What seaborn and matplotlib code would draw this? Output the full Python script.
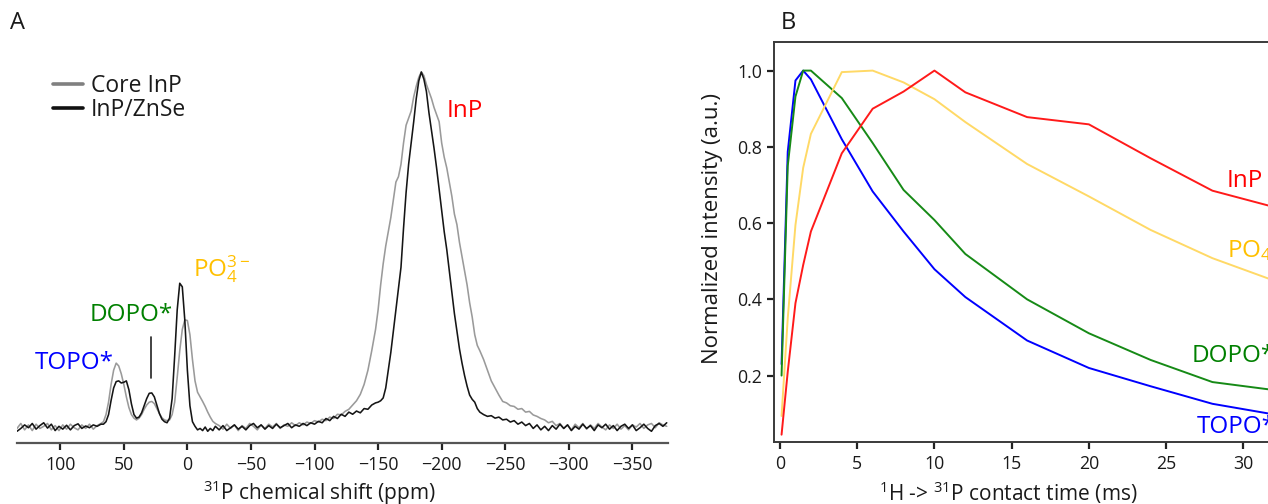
import numpy as np
import pandas as pd
import matplotlib
matplotlib.use("Agg")
import matplotlib.pyplot as plt
import seaborn as sns
from matplotlib.lines import Line2D

# ---------------- Panel A data: 31P spectra ----------------
ppm = [134, 131, 128, 125, 122, 119, 116, 113, 110, 107, 104, 101, 98, 95, 92, 89, 86, 83, 80, 77, 74, 71, 68,
       66, 64, 62, 60, 58, 56, 54, 52, 50, 48, 46, 44, 42, 40, 38, 36, 34, 32, 30, 28, 26, 24, 22, 20, 18, 16, 14,
       12, 10, 8, 6, 4, 2, 0, -2, -4, -6, -8, -10, -12, -14, -16, -18, -20, -22,
       -25, -28, -31, -34, -37, -40, -43, -46, -49, -52, -55, -58, -61, -64, -67, -70, -73, -76, -79, -82, -85,
       -88, -91, -94, -97, -100, -103, -106, -109, -112, -115, -118, -121, -124, -127, -130, -133, -136, -139,
       -142, -145, -148,
       -150, -152, -154, -156, -158, -160, -162, -164, -166, -168, -170, -172, -174, -176, -178, -180, -182, -184,
       -186, -188, -190, -192, -194, -196, -198, -200, -202, -204, -206, -208, -210, -212, -214, -216, -218, -220,
       -222, -224, -226, -228, -230,
       -233, -236, -239, -242, -245, -248, -251, -254, -257, -260, -263, -266, -269, -272, -275, -278, -281, -284,
       -287, -290, -293, -296, -299, -302, -305, -308, -311, -314, -317, -320, -323, -326, -329, -332, -335, -338,
       -341, -344, -347, -350, -353, -356, -359, -362, -365, -368, -371, -374, -377]

inp_znse = [-0.012, -0.004, 0.006, -0.002, 0.010, -0.006, 0.004, 0.012, -0.003, 0.008, -0.010, 0.002, -0.006,
            0.005, -0.008, 0.004, 0.009, -0.004, 0.003, -0.002, 0.006, 0.002, 0.008,
            0.008, 0.015, 0.035, 0.075, 0.110, 0.128, 0.130, 0.124, 0.126, 0.130, 0.105, 0.065, 0.035, 0.025, 0.028,
            0.040, 0.060, 0.080, 0.095, 0.096, 0.085, 0.062, 0.038, 0.022, 0.015, 0.012, 0.025, 0.080, 0.200, 0.330,
            0.405, 0.395, 0.300, 0.160, 0.060, 0.015, 0.002, -0.008, -0.004, -0.010, 0.000, -0.012, -0.004, -0.010,
            0.002,
            -0.008, 0.004, -0.010, -0.002, 0.006, -0.006, 0.002, -0.008, 0.004, 0.010, -0.002, 0.006, -0.006, 0.004,
            -0.004, 0.008, -0.002, 0.004, 0.010, -0.002, 0.006, 0.002, 0.010, 0.004, 0.012, 0.008, 0.016, 0.012,
            0.024, 0.018, 0.030, 0.024, 0.036, 0.030, 0.042, 0.036, 0.045, 0.040, 0.052, 0.050, 0.062, 0.068,
            0.070, 0.074, 0.082, 0.110, 0.160, 0.210, 0.270, 0.330, 0.390, 0.450, 0.560, 0.660, 0.740, 0.800, 0.860,
            0.925, 0.975, 1.000, 0.980, 0.945, 0.885, 0.835, 0.785, 0.730, 0.670, 0.610, 0.550, 0.500, 0.440, 0.380,
            0.320, 0.270, 0.220, 0.180, 0.145, 0.115, 0.090, 0.078, 0.070, 0.052, 0.042,
            0.035, 0.030, 0.032, 0.025, 0.028, 0.020, 0.022, 0.014, 0.018, 0.008, 0.014, 0.004, 0.010, -0.004, 0.006,
            -0.008, 0.002, -0.010, 0.004, -0.006, 0.008, -0.004, 0.006, -0.010, 0.002, -0.006, 0.008, -0.004, 0.004,
            -0.010, 0.006, -0.002, 0.008, -0.006, 0.004, -0.010, 0.002, 0.008, -0.004, 0.006, -0.010, -0.002, 0.008,
            -0.004, -0.012, 0.004, 0.010, 0.002, 0.012]

core_inp = [-0.004, 0.010, -0.008, 0.006, -0.010, 0.008, -0.004, 0.002, 0.010, -0.008, 0.004, -0.010, 0.006,
            -0.006, 0.008, -0.002, -0.008, 0.006, -0.004, 0.008, -0.006, 0.004, 0.010,
            0.015, 0.035, 0.070, 0.120, 0.160, 0.180, 0.172, 0.150, 0.120, 0.085, 0.055, 0.035, 0.025, 0.020, 0.025,
            0.035, 0.050, 0.062, 0.070, 0.072, 0.066, 0.052, 0.038, 0.026, 0.020, 0.018, 0.020, 0.035, 0.070, 0.140,
            0.215, 0.275, 0.302, 0.300, 0.260, 0.190, 0.130, 0.098, 0.085, 0.072, 0.058, 0.042, 0.028, 0.016, 0.010,
            0.004, -0.006, 0.008, -0.004, 0.006, -0.010, 0.004, -0.004, 0.010, 0.002, -0.008, 0.006, -0.004, 0.008,
            0.000, 0.010, -0.004, 0.006, 0.002, 0.012, 0.004, 0.012, 0.006, 0.014, 0.010, 0.018, 0.014, 0.022, 0.018,
            0.028, 0.024, 0.036, 0.034, 0.044, 0.050, 0.062, 0.074, 0.092, 0.120, 0.160, 0.215, 0.275,
            0.330, 0.400, 0.460, 0.510, 0.550, 0.590, 0.640, 0.690, 0.705, 0.740, 0.800, 0.850, 0.870, 0.890, 0.930,
            0.960, 0.985, 1.000, 0.990, 0.965, 0.945, 0.925, 0.900, 0.880, 0.860, 0.800, 0.760, 0.730, 0.690, 0.650,
            0.600, 0.570, 0.520, 0.480, 0.440, 0.400, 0.350, 0.310, 0.260, 0.230, 0.215,
            0.190, 0.160, 0.130, 0.110, 0.090, 0.072, 0.068, 0.060, 0.058, 0.050, 0.052, 0.042, 0.044, 0.034, 0.030,
            0.024, 0.020, 0.012, 0.016, 0.004, 0.010, -0.004, 0.006, -0.008, 0.008, -0.002, 0.010, -0.006, 0.006,
            -0.004, 0.010, 0.000, -0.008, 0.006, -0.004, 0.008, -0.006, 0.004, -0.008, 0.006, 0.000, 0.010, -0.004,
            0.006, 0.010, -0.002, 0.012, 0.006, 0.002]

samples = ["Core InP", "InP/ZnSe"]
ppm_ticks = [100, 50, 0, -50, -100, -150, -200, -250, -300, -350]

# ---------------- Panel B data: CP build-up ----------------
contact_time = [0.1, 0.5, 1, 1.5, 2, 4, 6, 8, 10, 12, 16, 20, 24, 28, 32]
cp_inp = [0.045, 0.21, 0.39, 0.49, 0.578, 0.783, 0.900, 0.945, 1.000, 0.943, 0.878, 0.859, 0.770, 0.685, 0.642]
cp_po4 = [0.094, 0.35, 0.595, 0.745, 0.834, 0.996, 1.000, 0.969, 0.925, 0.865, 0.755, 0.670, 0.582, 0.508, 0.449]
cp_dopo = [0.200, 0.75, 0.932, 1.000, 1.000, 0.928, 0.810, 0.687, 0.608, 0.519, 0.400, 0.311, 0.241, 0.183, 0.162]
cp_topo = [0.230, 0.787, 0.974, 1.000, 0.977, 0.820, 0.683, 0.578, 0.479, 0.406, 0.292, 0.220, 0.172, 0.126, 0.098]
species = ["TOPO*", "DOPO*", "PO4", "InP"]
time_ticks = [0, 5, 10, 15, 20, 25, 30]
int_ticks = [0.2, 0.4, 0.6, 0.8, 1.0]

assert len(ppm) == len(inp_znse) == len(core_inp), (len(ppm), len(inp_znse), len(core_inp))

# ---------------- style ----------------
sns.set_style("ticks")
plt.rcParams["font.family"] = ["Open Sans", "DejaVu Sans"]
plt.rcParams["mathtext.fontset"] = "custom"
plt.rcParams["mathtext.rm"] = "Open Sans"
plt.rcParams["mathtext.it"] = "Open Sans:italic"
plt.rcParams["mathtext.bf"] = "Open Sans:bold"

W, H = 1268, 504
fig = plt.figure(figsize=(W / 100, H / 100), dpi=100)


def rect(l, t, r, b):
    return [l / W, 1 - b / H, (r - l) / W, (b - t) / H]


def ftext(x, y, s, **kw):
    return fig.text(x / W, 1 - y / H, s, **kw)


axA = fig.add_axes(rect(17, 50, 668, 443))
axB = fig.add_axes(rect(774.3, 42, 1268, 442.3))

TXT = "#1a1a1a"
SPINE = "#3a3a3a"

# ---------------- Panel A ----------------
dfA = pd.DataFrame({
    "ppm": ppm * 2,
    "intensity": core_inp + inp_znse,
    "sample": [samples[0]] * len(ppm) + [samples[1]] * len(ppm),
})
palA = {"Core InP": "#9a9a9a", "InP/ZnSe": "#151515"}
sns.lineplot(data=dfA, x="ppm", y="intensity", hue="sample", hue_order=samples,
             palette=palA, estimator=None, sort=False, lw=1.15, legend=False, ax=axA)
axA.set_xlim(134, -378)
axA.set_ylim(-0.045, 1.062)
for s in ["left", "top", "right"]:
    axA.spines[s].set_visible(False)
axA.spines["bottom"].set_color("#555555")
axA.spines["bottom"].set_linewidth(1.6)
axA.set_yticks([])
axA.set_xticks(ppm_ticks)
axA.tick_params(axis="x", length=5, width=1.6, color="#222222", labelsize=12.8, pad=4, labelcolor=TXT)
axA.set_ylabel("")
axA.set_xlabel(r"$^{\mathrm{31}}$P chemical shift (ppm)", fontsize=15, color=TXT)
axA.xaxis.label.set_va("center")
axA.xaxis.set_label_coords((320 - 17) / 651, (443 - 493) / 393)

# DOPO* marker line
DOPO_PPM = 28.6
axA.plot([DOPO_PPM, DOPO_PPM], [0.138, 0.254], color="#222222", lw=1.2)

handles = [Line2D([], [], color="#808080", lw=2.6), Line2D([], [], color="#111111", lw=2.6)]
fig.legend(handles, samples, loc="center left", bbox_to_anchor=(53 / W, 1 - 98.5 / H),
           frameon=False, fontsize=16.5, handlelength=1.3, handletextpad=0.35, labelspacing=0.0,
           borderpad=0, borderaxespad=0, labelcolor=TXT)

lab = dict(fontsize=17.5, va="baseline", ha="left")
ftext(35, 369, "TOPO*", color="#0000ff", **lab)
ftext(90, 321, "DOPO*", color="#008000", **lab)
ftext(193, 276.7, r"PO$_4^{3-}$", color="#ffc000", **lab)
ftext(447, 117.3, "InP", color="#ff0000", **lab)
ftext(18, 23, "A", fontsize=17, ha="center", va="center", color=TXT)
ftext(788, 23, "B", fontsize=17, ha="center", va="center", color=TXT)

# ---------------- Panel B ----------------
dfB = pd.DataFrame({
    "time": contact_time * 4,
    "intensity": cp_topo + cp_dopo + cp_po4 + cp_inp,
    "species": sum([[sp] * len(contact_time) for sp in species], []),
})
palB = {"TOPO*": "#0000ff", "DOPO*": "#168a16", "PO4": "#ffd966", "InP": "#ff1a1a"}
sns.lineplot(data=dfB, x="time", y="intensity", hue="species", hue_order=species,
             palette=palB, estimator=None, sort=False, lw=1.4, legend=False, ax=axB)
axB.set_xlim(-0.37, 31.6)
axB.set_ylim(0.025, 1.075)
axB.spines["right"].set_visible(False)
for s in ["left", "top", "bottom"]:
    axB.spines[s].set_color(SPINE)
    axB.spines[s].set_linewidth(1.4)
axB.set_xticks(time_ticks)
axB.set_yticks(int_ticks)
axB.set_yticklabels([f"{v:.1f}" for v in int_ticks])
axB.tick_params(axis="both", length=5, width=1.6, color="#222222", labelsize=12.8, pad=4, labelcolor=TXT)
axB.set_xlabel(r"$^{\mathrm{1}}$H -> $^{\mathrm{31}}$P contact time (ms)", fontsize=15, color=TXT)
axB.xaxis.label.set_va("center")
axB.xaxis.set_label_coords((1008 - 774.3) / 493.7, (442.3 - 493) / 400.3)
axB.set_ylabel("Normalized intensity (a.u.)", fontsize=16, color=TXT)
axB.yaxis.label.set_va("center")
axB.yaxis.set_label_coords((713 - 774.3) / 493.7, (442.3 - 229) / 400.3)

ftext(1227, 186.7, "InP", color="#ff0000", **lab)
ftext(1227, 256.7, r"PO$_4$", color="#ffc000", **lab)
ftext(1191.7, 361.7, "DOPO*", color="#008000", **lab)
ftext(1196.7, 433, "TOPO*", color="#0000ff", **lab)

fig.savefig("out.png", dpi=100)
